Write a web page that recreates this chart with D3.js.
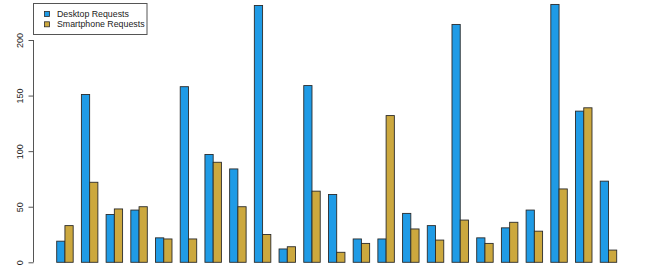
<!DOCTYPE html>
<html>
<head>
<meta charset="utf-8">
<script src="https://cdn.jsdelivr.net/npm/d3@7"></script>
<style>
  body { margin: 0; background: #fff; }
  svg { display: block; font-family: "Liberation Sans", Arial, sans-serif; }
</style>
</head>
<body>
<svg id="chart" width="650" height="274"></svg>
<script>
// dati
const groups = d3.range(1, 24).map(String);
const seriesNames = ["Desktop Requests", "Smartphone Requests"];
const desktop = [19, 151, 43, 47, 22, 158, 97, 84, 231, 12, 159, 61, 21, 21, 44, 33, 214, 22, 31, 47, 232, 136, 73];
const smartphone = [33, 72, 48, 50, 21, 21, 90, 50, 25, 14, 64, 9, 17, 132, 30, 20, 38, 17, 36, 28, 66, 139, 11];
const yTicks = [0, 50, 100, 150, 200];
const colors = ["#1f9be6", "#cca83e"];

const svg = d3.select("#chart");

// scale
const x = d3.scaleBand()
  .domain(groups)
  .range([56.7, 616.7])
  .paddingInner(1 / 3)
  .paddingOuter(0);

const xSub = d3.scaleBand()
  .domain(seriesNames)
  .range([0, x.bandwidth()]);

const y = d3.scaleLinear()
  .domain([0, 200])
  .range([262.3, 40]);

const rows = groups.map((g, i) => ({ g: g, vals: [desktop[i], smartphone[i]] }));

// barre
const gGroups = svg.append("g").selectAll("g")
  .data(rows)
  .enter()
  .append("g")
  .attr("transform", d => `translate(${x(d.g)},0)`);

gGroups.selectAll("rect")
  .data(d => d.vals.map((v, k) => ({ v: v, k: k })))
  .enter()
  .append("rect")
  .attr("x", d => xSub(seriesNames[d.k]))
  .attr("y", d => y(d.v))
  .attr("width", xSub.bandwidth())
  .attr("height", d => y(0) - y(d.v))
  .attr("fill", d => colors[d.k])
  .attr("stroke", "#2b2b2b")
  .attr("stroke-width", 0.9);

// asse y (solo linea tra 0 e 200, come in R)
const yAxis = svg.append("g")
  .attr("transform", "translate(33.5,0)")
  .call(d3.axisLeft(y).tickValues(yTicks).tickSize(5).tickPadding(9));

yAxis.select(".domain").attr("stroke", "#555").attr("d", `M0,${y(0)}V${y(200)}`);
yAxis.selectAll(".tick line").attr("stroke", "#555");
yAxis.selectAll(".tick text")
  .attr("font-size", 9)
  .attr("fill", "#222")
  .attr("x", 0)
  .attr("dy", 0)
  .attr("text-anchor", "middle")
  .attr("transform", "translate(-11,0) rotate(-90)");

// legenda
const legend = svg.append("g");
legend.append("rect")
  .attr("x", 33.5)
  .attr("y", 3.5)
  .attr("width", 113.5)
  .attr("height", 31)
  .attr("fill", "#fff")
  .attr("stroke", "#555");

seriesNames.forEach((name, k) => {
  const cy = 14 + k * 10.3;
  legend.append("rect")
    .attr("x", 44.5)
    .attr("y", cy - 2.5)
    .attr("width", 5)
    .attr("height", 5)
    .attr("fill", colors[k])
    .attr("stroke", "#2b2b2b")
    .attr("stroke-width", 0.8);
  legend.append("text")
    .attr("x", 57)
    .attr("y", cy + 3)
    .attr("font-size", 8.8)
    .attr("fill", "#222")
    .text(name);
});
</script>
</body>
</html>
